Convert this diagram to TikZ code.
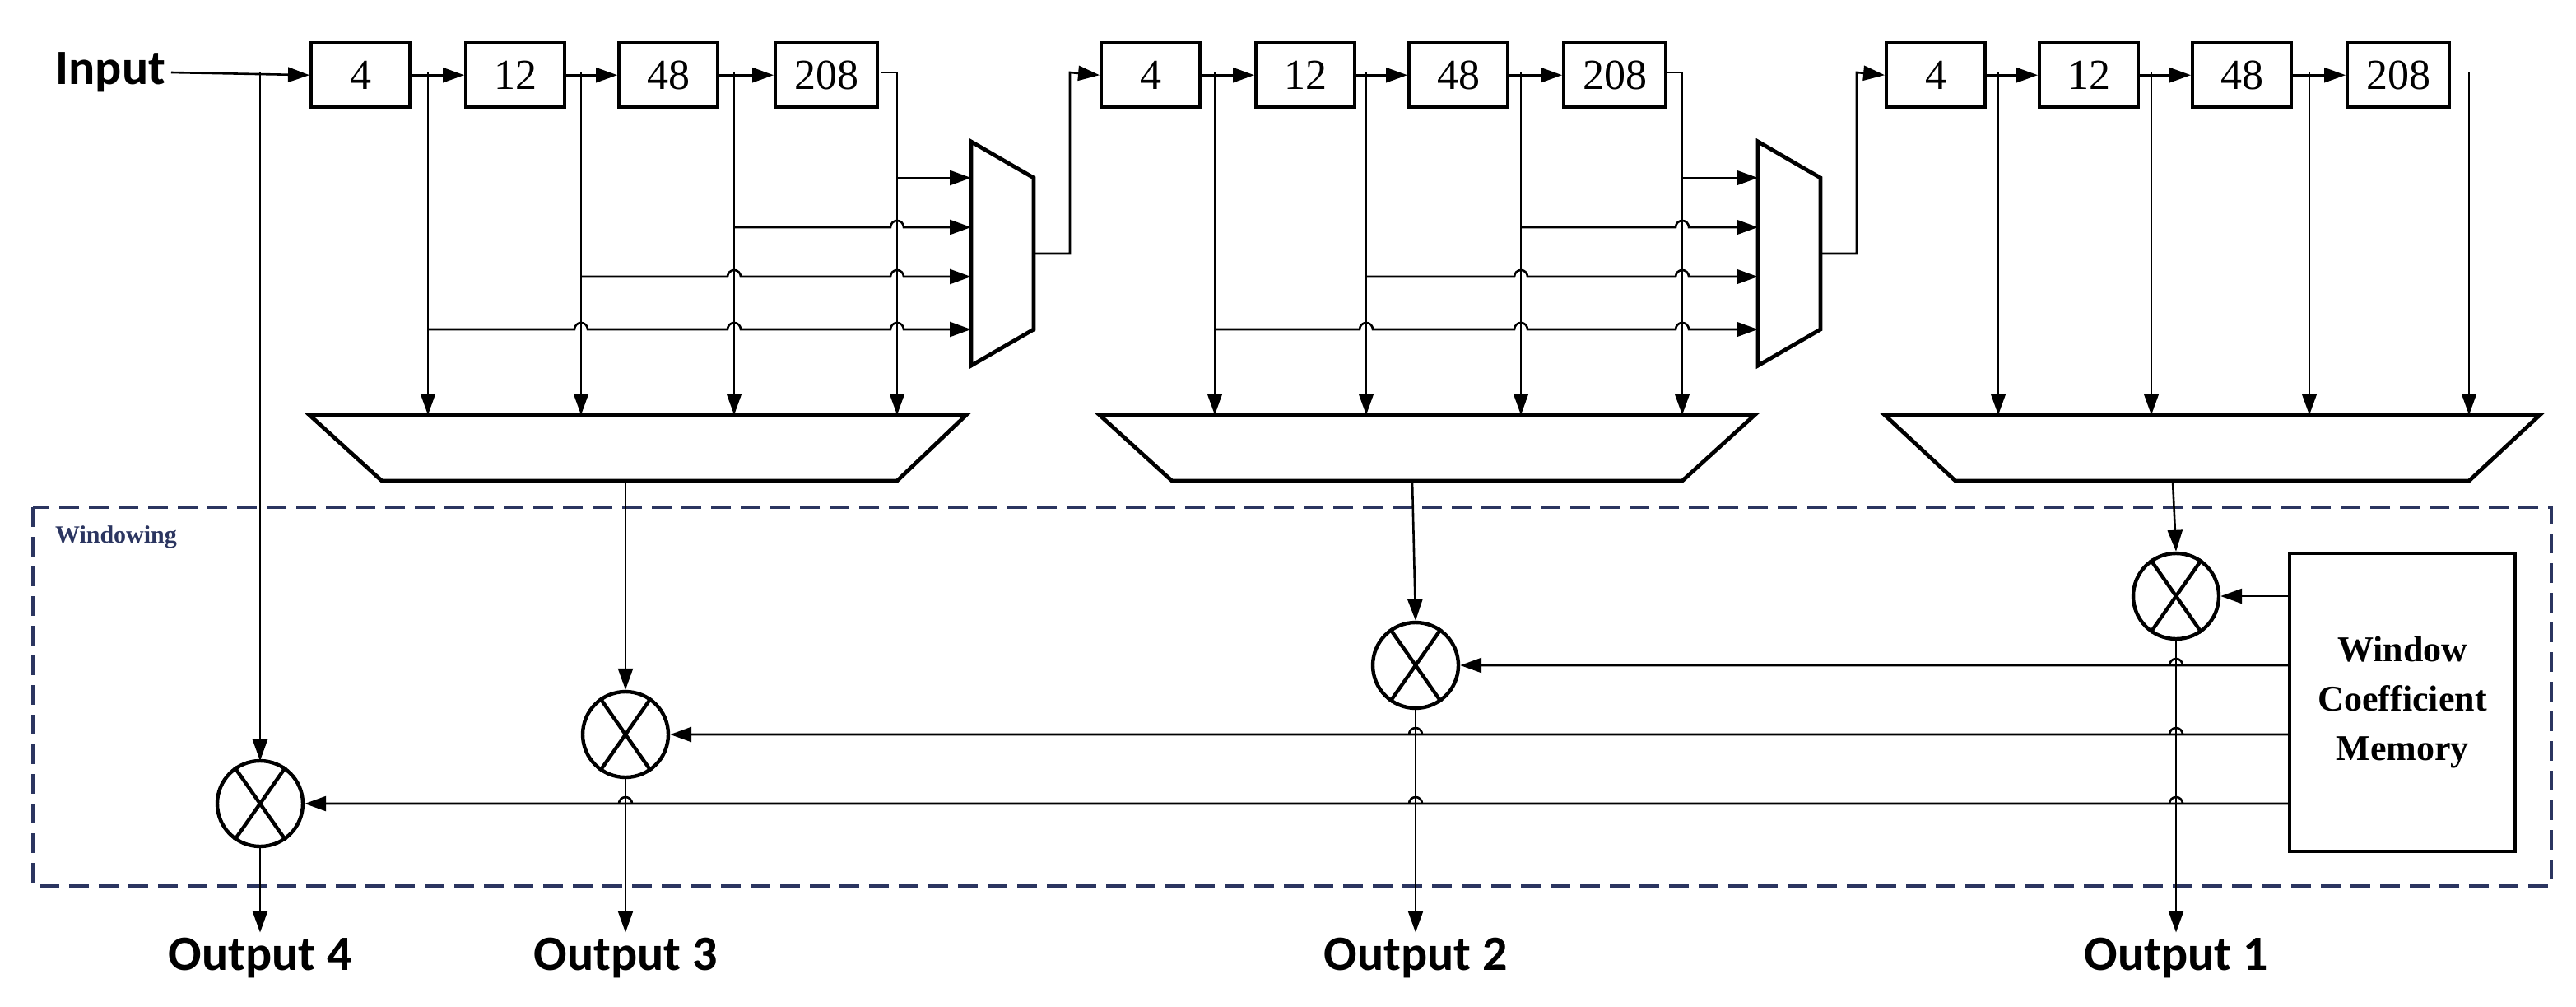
\documentclass[tikz,border=0pt]{standalone}
\usepackage{fontspec}
\setmainfont{Liberation Serif}
\newfontfamily\lbl{Carlito}
\usetikzlibrary{arrows.meta}
\definecolor{navy}{HTML}{2B3560}
\begin{document}
\begin{tikzpicture}[x=1pt,y=-1pt,
  ln/.style={line width=1.3pt},
  arr/.style={ln,-{Triangle[length=13pt,width=9pt]}},
  reg/.style={draw,line width=2.2pt,minimum width=60pt,minimum height=39pt,inner sep=0pt,font=\fontsize{26}{26}\selectfont},
  trap/.style={draw,line width=2.4pt,line join=miter,fill=white},
  mult/.style={draw,circle,line width=2.2pt,minimum size=52pt,inner sep=0pt},
  lab/.style={font=\lbl\bfseries\fontsize{30}{30}\selectfont}]
\useasboundingbox (0,0) rectangle (1565,611);
% windowing box
\draw[navy,line width=2.2pt,dash pattern=on 12pt off 6pt] (20,308) rectangle (1550,538);
\node[anchor=west,navy,font=\bfseries\fontsize{15}{15}\selectfont] (win) at (30,326) {Windowing};
\node[lab,anchor=east] (in) at (104,44) {Input};
% registers
\foreach \s/\xa/\xb/\xc/\xd in {1/188/282/375/470, 2/668/762/855/949, 3/1145/1238/1331/1425}{
  \node[reg,anchor=north west] (r\s a) at (\xa,25) {4};
  \node[reg,anchor=north west] (r\s b) at (\xb,25) {12};
  \node[reg,anchor=north west] (r\s c) at (\xc,25) {48};
  \node[reg,anchor=north west,minimum width=62pt] (r\s d) at (\xd,25) {208};
}
% adders
\draw[trap] (188,252) -- (587,252) -- (545,292) -- (232,292) -- cycle;
\draw[trap] (668,252) -- (1066,252) -- (1022,292) -- (712,292) -- cycle;
\draw[trap] (1145,252) -- (1543,252) -- (1500,292) -- (1188,292) -- cycle;
\coordinate (a1) at (380,292); \coordinate (a2) at (858,292); \coordinate (a3) at (1320,292);
% muxes
\draw[trap] (590,86) -- (628,108) -- (628,200) -- (590,222) -- cycle;
\draw[trap] (1068,86) -- (1106,108) -- (1106,200) -- (1068,222) -- cycle;
% input
\draw[arr] (in.east) -- (r1a.west);
\draw[arr] (158,44) -- (158,462);
% chains
\foreach \s in {1,2,3}{
  \draw[arr] (r\s a.east) -- (r\s b.west);
  \draw[arr] (r\s b.east) -- (r\s c.west);
  \draw[arr] (r\s c.east) -- (r\s d.west);
}
\draw[arr] (628,154) -- (650,154) -- (650,44) -- (r2a.west);
\draw[arr] (1106,154) -- (1128,154) -- (1128,44) -- (r3a.west);
% taps and mux feeds
\def\hop#1{-- (#1-4,\yy) arc[start angle=180,end angle=360,radius=4]}
\foreach \t/\u/\v/\w/\m in {260/353/446/545/590, 738/830/924/1022/1068}{
  \draw[arr] (\t,44) -- (\t,252);
  \draw[arr] (\u,44) -- (\u,252);
  \draw[arr] (\v,44) -- (\v,252);
  \draw[arr] (r1d.east -| 0,0) ++(\w,44) (\w-10,44) -- (\w,44) -- (\w,252);
  \def\yy{200}\draw[arr] (\t,200) \hop{\u} \hop{\v} \hop{\w} -- (\m,200);
  \def\yy{168}\draw[arr] (\u,168) \hop{\v} \hop{\w} -- (\m,168);
  \def\yy{138}\draw[arr] (\v,138) \hop{\w} -- (\m,138);
  \draw[arr] (\w,108) -- (\m,108);
}
\foreach \t in {1214,1307,1403,1500}{\draw[arr] (\t,44) -- (\t,252);}
% multipliers
\node[mult] (m1) at (1322,362) {};
\node[mult] (m2) at (860,404) {};
\node[mult] (m3) at (380,446) {};
\node[mult] (m4) at (158,488) {};
\foreach \m in {m1,m2,m3,m4}{
  \draw[line width=2.2pt] (\m.55) -- (\m.235) (\m.125) -- (\m.305);
}
\node[draw,line width=2.2pt,minimum width=137pt,minimum height=181pt,anchor=north west,align=center,font=\bfseries\fontsize{22}{30}\selectfont] (wcm) at (1390,335) {Window\\Coefficient\\Memory};
\draw[arr] (a1) -- (m3.north);
\draw[arr] (a2) -- (m2.north);
\draw[arr] (a3) -- (m1.north);
\draw[arr] (wcm.west |- m1) -- (m1.east);
\def\yy{404}\draw[arr] (1390,404) \hop{1322} -- (m2.east);
\def\yy{446}\draw[arr] (1390,446) \hop{1322} \hop{860} -- (m3.east);
\def\yy{488}\draw[arr] (1390,488) \hop{1322} \hop{860} \hop{380} -- (m4.east);
% outputs
\node[lab] (o4) at (158,582) {Output 4};
\node[lab] (o3) at (380,582) {Output 3};
\node[lab] (o2) at (860,582) {Output 2};
\node[lab] (o1) at (1322,582) {Output 1};
\draw[arr] (m4.south) -- (o4.north);
\draw[arr] (m3.south) -- (o3.north);
\draw[arr] (m2.south) -- (o2.north);
\draw[arr] (m1.south) -- (o1.north);
\end{tikzpicture}
\end{document}
